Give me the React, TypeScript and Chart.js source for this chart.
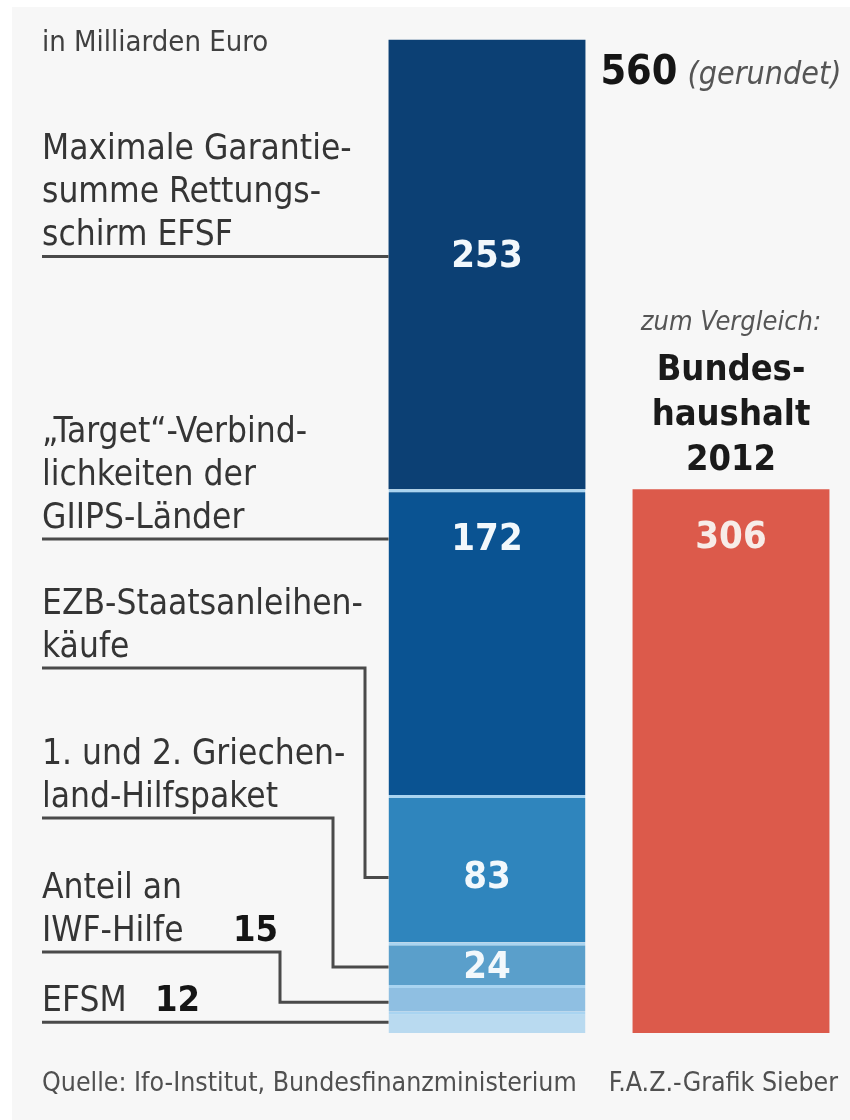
import React, { useEffect, useRef } from "react";
import { Chart, registerables } from "chart.js";

Chart.register(...registerables);

// ---- data ----
const categories = ["Haftung", "Bundeshaushalt 2012"];
const segmentNames = [
  "EFSM",
  "Anteil an IWF-Hilfe",
  "1. und 2. Griechenland-Hilfspaket",
  "EZB-Staatsanleihenkäufe",
  "„Target“-Verbindlichkeiten der GIIPS-Länder",
  "Maximale Garantiesumme Rettungsschirm EFSF",
];
const segmentValues = [12, 15, 24, 83, 172, 253];
const budgetValue = 306;
const totalRounded = 560;
const labelLines = [
  ["EFSM"],
  ["Anteil an", "IWF-Hilfe"],
  ["1. und 2. Griechen-", "land-Hilfspaket"],
  ["EZB-Staatsanleihen-", "käufe"],
  ["„Target“-Verbind-", "lichkeiten der", "GIIPS-Länder"],
  ["Maximale Garantie-", "summe Rettungs-", "schirm EFSF"],
];
const budgetTitle = ["Bundes-", "haushalt", "2012"];

// ---- styles / layout ----
const segmentColors = ["#b9daf0", "#8fbfe2", "#5a9fcb", "#2f85bd", "#0a5392", "#0c4074"];
const budgetColor = "#dc5a4b";
const anchorFrac = [0.5, 0.35, 0.42, 0.44, 0.837, 0.518];
const underlineY = [null, 952, 818, 668, null, null];
const elbowX = [null, 280, 333, 365, null, null];
const inlineNumberX = [155, 233];
const FONT = "'DejaVu Sans Condensed', 'Liberation Sans Narrow', sans-serif";

const annotations = {
  id: "annotations",
  afterDatasetsDraw(chart: any) {
    const ctx = chart.ctx;
    ctx.save();
    const textLeft = 42;
    let stackTop = 0;
    let stackRight = 0;
    for (let i = 0; i < segmentValues.length; i++) {
      const el: any = chart.getDatasetMeta(i).data[0];
      const top = el.y;
      const bottom = el.base;
      const left = el.x - el.width / 2;
      stackTop = top;
      stackRight = el.x + el.width / 2;
      const anchorY = bottom - (bottom - top) * anchorFrac[i];
      const uY = underlineY[i] ?? anchorY;
      const eX = elbowX[i] ?? left;
      // leader line
      ctx.strokeStyle = "#4a4a4a";
      ctx.lineWidth = 3;
      ctx.beginPath();
      ctx.moveTo(textLeft, uY);
      ctx.lineTo(eX, uY);
      ctx.lineTo(eX, anchorY);
      ctx.lineTo(left, anchorY);
      ctx.stroke();
      // label text
      ctx.fillStyle = "#353535";
      ctx.font = `35px ${FONT}`;
      ctx.textAlign = "left";
      ctx.textBaseline = "alphabetic";
      const lines = labelLines[i];
      for (let k = 0; k < lines.length; k++) {
        const by = uY - 11 - (lines.length - 1 - k) * 43;
        ctx.fillText(lines[k], textLeft, by);
      }
      // value
      if (i < 2) {
        ctx.fillStyle = "#151515";
        ctx.font = `bold 36px ${FONT}`;
        ctx.fillText(String(segmentValues[i]), inlineNumberX[i], uY - 11);
      } else {
        ctx.fillStyle = "#f2f8fc";
        ctx.font = `bold 38px ${FONT}`;
        ctx.textAlign = "center";
        ctx.textBaseline = "middle";
        ctx.fillText(String(segmentValues[i]), el.x, anchorY + 1);
      }
    }
    // total label
    ctx.textAlign = "left";
    ctx.textBaseline = "alphabetic";
    ctx.fillStyle = "#151515";
    ctx.font = `bold 41px ${FONT}`;
    const tx = stackRight + 15;
    const ty = stackTop + 44;
    ctx.fillText(String(totalRounded), tx, ty);
    const w = ctx.measureText(String(totalRounded)).width;
    ctx.fillStyle = "#555";
    ctx.font = `italic 32px ${FONT}`;
    ctx.fillText("(gerundet)", tx + w + 10, ty);

    // budget bar
    const b: any = chart.getDatasetMeta(segmentValues.length).data[1];
    ctx.textAlign = "center";
    ctx.fillStyle = "#f7ece8";
    ctx.font = `bold 38px ${FONT}`;
    ctx.textBaseline = "middle";
    ctx.fillText(String(budgetValue), b.x, b.y + 49);
    ctx.textBaseline = "alphabetic";
    ctx.fillStyle = "#1a1a1a";
    ctx.font = `bold 36px ${FONT}`;
    for (let k = 0; k < budgetTitle.length; k++) {
      ctx.fillText(budgetTitle[k], b.x, b.y - 19 - (budgetTitle.length - 1 - k) * 45);
    }
    ctx.fillStyle = "#555";
    ctx.font = `italic 27px ${FONT}`;
    ctx.fillText("zum Vergleich:", b.x, b.y - 159);
    ctx.restore();
  },
};

export default function App() {
  const ref = useRef<HTMLCanvasElement>(null);
  useEffect(() => {
    if (!ref.current) return;
    const datasets: any[] = segmentValues.map((v, i) => ({
      label: segmentNames[i],
      data: [v, null],
      backgroundColor: segmentColors[i],
      borderColor: "#a9d4f1",
      borderWidth: { top: i === segmentValues.length - 1 ? 0 : 3, left: 0, right: 0, bottom: 0 },
      borderSkipped: false,
      stack: "s",
    }));
    datasets.push({
      label: "Bundeshaushalt 2012",
      data: [null, budgetValue],
      backgroundColor: budgetColor,
      borderWidth: 0,
      stack: "s",
    });
    const chart = new Chart(ref.current, {
      type: "bar",
      data: { labels: categories, datasets },
      options: {
        animation: false,
        responsive: false,
        maintainAspectRatio: false,
        layout: { padding: { left: 365, right: 7, top: 38, bottom: 87 } },
        datasets: { bar: { categoryPercentage: 1, barPercentage: 0.807 } },
        scales: {
          x: { stacked: true, display: false },
          y: { stacked: true, display: false, min: 0, max: totalRounded },
        },
        plugins: { legend: { display: false }, tooltip: { enabled: false } },
      } as any,
      plugins: [annotations],
    });
    return () => chart.destroy();
  }, []);

  return (
    <div style={{ position: "absolute", left: 0, top: 0, width: 850, height: 1120, overflow: "hidden", background: "#ffffff" }}>
      <div style={{ position: "absolute", left: 12, top: 7, right: 0, bottom: 0, background: "#f7f7f7" }} />
      <canvas ref={ref} width={860} height={1120} style={{ position: "absolute", left: 0, top: 0, width: 860, height: 1120 }} />
      <div style={{ position: "absolute", left: 42, top: 25, font: `29px ${FONT}`, color: "#404040", lineHeight: "32px", whiteSpace: "nowrap" }}>
        in Milliarden Euro
      </div>
      <div style={{ position: "absolute", left: 42, top: 1066, font: `26.5px ${FONT}`, color: "#505050", lineHeight: "32px", whiteSpace: "nowrap" }}>
        Quelle: Ifo-Institut, Bundesfinanzministerium
      </div>
      <div style={{ position: "absolute", right: 12, top: 1066, font: `26.5px ${FONT}`, color: "#505050", lineHeight: "32px", whiteSpace: "nowrap" }}>
        F.A.Z.-Grafik Sieber
      </div>
    </div>
  );
}
